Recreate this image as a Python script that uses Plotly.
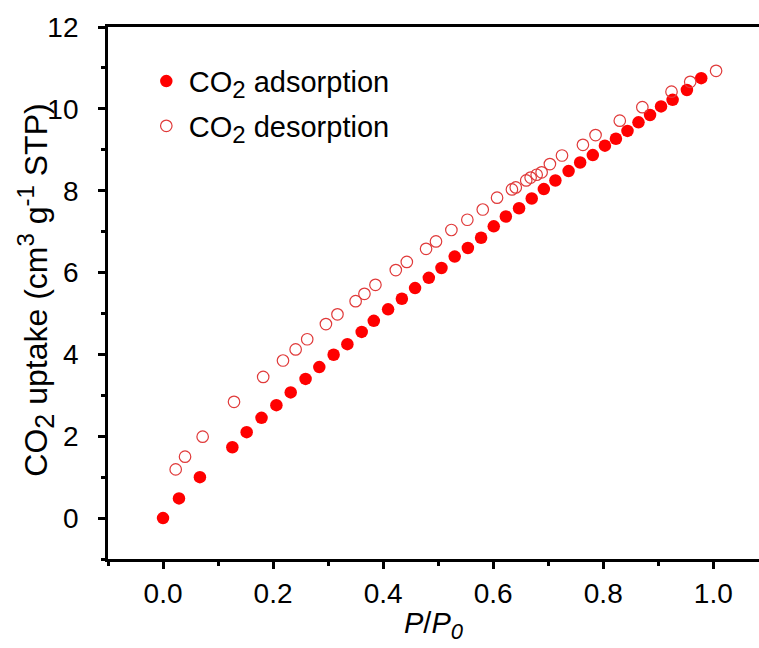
import plotly.graph_objects as go

# CO2 isotherm at relative pressure P/P0
ads_p = [0.000, 0.029, 0.067, 0.126, 0.152, 0.179, 0.206, 0.232, 0.259, 0.284,
         0.310, 0.335, 0.361, 0.383, 0.409, 0.434, 0.458, 0.483, 0.506, 0.530,
         0.554, 0.578, 0.601, 0.623, 0.647, 0.670, 0.692, 0.713, 0.737, 0.758,
         0.781, 0.803, 0.823, 0.844, 0.864, 0.885, 0.905, 0.926, 0.952, 0.978]
ads_q = [0.00, 0.48, 1.00, 1.73, 2.10, 2.45, 2.76, 3.07, 3.40, 3.69,
         3.99, 4.25, 4.55, 4.82, 5.10, 5.36, 5.62, 5.87, 6.11, 6.39,
         6.60, 6.85, 7.13, 7.37, 7.57, 7.81, 8.04, 8.25, 8.48, 8.69,
         8.87, 9.10, 9.27, 9.46, 9.67, 9.85, 10.06, 10.22, 10.46, 10.75]

des_p = [0.023, 0.040, 0.072, 0.129, 0.182, 0.218, 0.241, 0.262, 0.296, 0.317,
         0.350, 0.366, 0.386, 0.423, 0.443, 0.478, 0.496, 0.524, 0.553, 0.581,
         0.607, 0.634, 0.641, 0.660, 0.668, 0.679, 0.688, 0.703, 0.725, 0.763,
         0.786, 0.830, 0.871, 0.924, 0.958, 1.005]
des_q = [1.19, 1.50, 1.99, 2.84, 3.45, 3.85, 4.12, 4.37, 4.74, 4.98,
         5.30, 5.48, 5.70, 6.06, 6.26, 6.58, 6.76, 7.04, 7.29, 7.54,
         7.83, 8.03, 8.08, 8.25, 8.32, 8.39, 8.45, 8.65, 8.86, 9.12,
         9.36, 9.71, 10.04, 10.42, 10.66, 10.93]

x_ticks = [0, 0.2, 0.4, 0.6, 0.8, 1.0]
x_labels = ["0.0", "0.2", "0.4", "0.6", "0.8", "1.0"]
y_ticks = [0, 2, 4, 6, 8, 10, 12]

FONT = "Liberation Sans, Arial, sans-serif"
RED = "#ff0000"
OPEN_RED = "#e03a3a"


def sub(s, px):
    # subscript kept close to full size
    return f"<sub><span style='font-size:{px}px'>{s}</span></sub>"


def sup(s, px):
    return f"<sup><span style='font-size:{px}px'>{s}</span></sup>"


fig = go.Figure()
fig.add_trace(go.Scatter(
    x=ads_p, y=ads_q, mode="markers", name="CO" + sub("2", 24) + " adsorption",
    legendgroup="a",
    marker=dict(symbol="circle", size=12.5, color=RED, line=dict(width=0)),
))
fig.add_trace(go.Scatter(
    x=des_p, y=des_q, mode="markers", name="CO" + sub("2", 24) + " desorption",
    legendgroup="d",
    marker=dict(symbol="circle-open", size=11.5, color=OPEN_RED,
                line=dict(width=1.2, color=OPEN_RED)),
))

axis_common = dict(
    showline=True, linecolor="black", linewidth=2.8,
    ticks="outside", tickcolor="black", tickwidth=2.6, ticklen=7,
    showgrid=False, zeroline=False,
    tickfont=dict(family=FONT, size=28, color="black"),
)

fig.update_xaxes(
    **axis_common,
    range=[-0.1, 1.083], tickmode="array",
    tickvals=x_ticks, ticktext=x_labels,
    minor=dict(dtick=0.1, tick0=0, ticks="outside", ticklen=4,
               tickwidth=2.6, tickcolor="black"),
    mirror=True,
    title=dict(text="<i>P</i>/<i>P" + sub("0", 22) + "</i>",
               font=dict(family=FONT, size=29, color="black"), standoff=6),
)
fig.update_yaxes(
    **axis_common,
    range=[-1, 12], tickmode="array",
    tickvals=y_ticks,
    ticklabelstandoff=14,
    minor=dict(dtick=1, tick0=0, ticks="outside", ticklen=4,
               tickwidth=2.6, tickcolor="black"),
    mirror=False,
)

# vertical axis title placed as a rotated annotation
fig.add_annotation(
    text="CO" + sub("2", 27) + " uptake (cm" + sup("3", 24)
         + " g" + sup("-1", 24) + " STP)",
    xref="paper", yref="paper", x=-0.110, y=0.505,
    xanchor="center", yanchor="middle", textangle=-90, showarrow=False,
    font=dict(family=FONT, size=32, color="black"),
)

fig.update_layout(
    width=759, height=648,
    margin=dict(l=108, r=0, t=27, b=89),
    plot_bgcolor="white", paper_bgcolor="white",
    showlegend=True,
    legend=dict(x=0.055, y=0.946, xanchor="left", yanchor="top",
                bgcolor="rgba(0,0,0,0)", borderwidth=0,
                font=dict(family=FONT, size=29, color="black"),
                traceorder="grouped", tracegroupgap=4, itemwidth=35),
)

fig.write_html("out.html")
